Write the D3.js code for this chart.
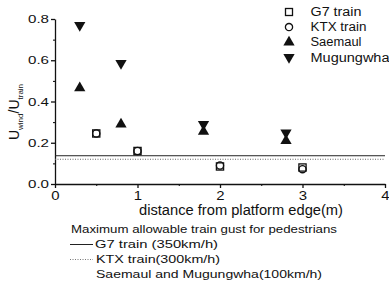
<!DOCTYPE html>
<html>
<head>
<meta charset="utf-8">
<script src="https://cdn.jsdelivr.net/npm/d3@7"></script>
<style>
  body { margin: 0; background: #fff; }
  text { font-family: "Liberation Sans", Arial, sans-serif; fill: #111; }
</style>
</head>
<body>
<div id="chart"></div>
<script>
const W = 389, H = 287;
const margin = { top: 19, right: 4, bottom: 103, left: 55 };
const width = W - margin.left - margin.right;
const height = H - margin.top - margin.bottom;

// data
const g7X = [0.5, 1.0, 2.0, 3.0];
const g7Y = [0.245, 0.16, 0.085, 0.08];
const ktxX = [0.5, 1.0, 2.0, 3.0];
const ktxY = [0.245, 0.16, 0.09, 0.072];
const saemaulX = [0.3, 0.8, 1.8, 2.8];
const saemaulY = [0.465, 0.29, 0.254, 0.21];
const mugungwhaX = [0.3, 0.8, 1.8, 2.8];
const mugungwhaY = [0.77, 0.585, 0.29, 0.248];
const limitG7 = 0.137;
const limitKTX = 0.12;
const xTicks = [0, 1, 2, 3, 4];
const yTicks = [0.0, 0.2, 0.4, 0.6, 0.8];

const svg = d3.select("#chart").append("svg")
  .attr("width", W).attr("height", H);
const g = svg.append("g")
  .attr("transform", `translate(${margin.left},${margin.top})`);

const x = d3.scaleLinear().domain([0, 4]).range([0, width]);
const y = d3.scaleLinear().domain([0, 0.8]).range([height, 0]);

// the original lettering is wide, so stretch text a bit
function stretched(sel, len) {
  return sel.attr("textLength", len).attr("lengthAdjust", "spacingAndGlyphs");
}

// minor ticks
g.append("g").attr("transform", `translate(0,${height})`)
  .call(d3.axisBottom(x).tickValues(d3.range(0.5, 4, 1)).tickSize(2).tickFormat(""))
  .call(a => a.select(".domain").remove());
g.append("g")
  .call(d3.axisLeft(y).tickValues(d3.range(0.1, 0.8, 0.2)).tickSize(2).tickFormat(""))
  .call(a => a.select(".domain").remove());

const xAxis = g.append("g").attr("transform", `translate(0,${height})`)
  .call(d3.axisBottom(x).tickValues(xTicks).tickSize(4).tickSizeOuter(0).tickFormat(d3.format("d")));
const yAxis = g.append("g")
  .call(d3.axisLeft(y).tickValues(yTicks).tickSize(4).tickSizeOuter(0).tickFormat(d3.format(".1f")));
[xAxis, yAxis].forEach(a => {
  a.selectAll("path,line").attr("stroke", "#111").attr("stroke-width", 1.3);
  a.selectAll("text").attr("fill", "#111");
});
xAxis.selectAll("text").style("font-size", "13px")
  .attr("y", 16).attr("dy", 0).attr("transform", "scale(1.15,1)");
yAxis.selectAll("text").style("font-size", "11px").attr("x", -6)
  .call(s => stretched(s, 21));

// limit lines
g.append("line").attr("x1", 0).attr("x2", width)
  .attr("y1", y(limitG7)).attr("y2", y(limitG7))
  .attr("stroke", "#222").attr("stroke-width", 1);
g.append("line").attr("x1", 0).attr("x2", width)
  .attr("y1", y(limitKTX)).attr("y2", y(limitKTX))
  .attr("stroke", "#666").attr("stroke-width", 1).attr("stroke-dasharray", "1,1.5");

const tri = d3.symbol().type(d3.symbolTriangle).size(55);

// markers
g.selectAll(".ktx").data(ktxX).enter().append("circle")
  .attr("cx", d => x(d)).attr("cy", (d, i) => y(ktxY[i])).attr("r", 3.6)
  .attr("fill", "none").attr("stroke", "#111").attr("stroke-width", 1.3);
g.selectAll(".g7").data(g7X).enter().append("rect")
  .attr("x", d => x(d) - 3.6).attr("y", (d, i) => y(g7Y[i]) - 3.6)
  .attr("width", 7.2).attr("height", 7.2)
  .attr("fill", "none").attr("stroke", "#111").attr("stroke-width", 1.3);
g.selectAll(".sae").data(saemaulX).enter().append("path")
  .attr("d", tri)
  .attr("transform", (d, i) => `translate(${x(d)},${y(saemaulY[i])})`)
  .attr("fill", "#111");
g.selectAll(".mug").data(mugungwhaX).enter().append("path")
  .attr("d", tri)
  .attr("transform", (d, i) => `translate(${x(d)},${y(mugungwhaY[i])}) rotate(180)`)
  .attr("fill", "#111");

// top-right legend
const leg = svg.append("g").attr("transform", "translate(289,12)");
const legNames = ["G7 train", "KTX train", "Saemaul", "Mugungwha"];
const legLen = [51, 56, 51, 79];
legNames.forEach((name, i) => {
  const row = leg.append("g").attr("transform", `translate(0,${i * 15.1})`);
  if (i === 0) row.append("rect").attr("x", -3.5).attr("y", -3.5).attr("width", 7).attr("height", 7)
    .attr("fill", "none").attr("stroke", "#111").attr("stroke-width", 1.3);
  if (i === 1) row.append("circle").attr("r", 3.6)
    .attr("fill", "none").attr("stroke", "#111").attr("stroke-width", 1.3);
  if (i === 2) row.append("path").attr("d", tri).attr("fill", "#111");
  if (i === 3) row.append("path").attr("d", tri).attr("transform", "rotate(180)").attr("fill", "#111");
  row.append("text").attr("x", 21.5).attr("y", 4.2).style("font-size", "12px").text(name)
    .call(s => stretched(s, legLen[i]));
});

// axis titles
svg.append("text").attr("x", 139).attr("y", 215).style("font-size", "14px")
  .text("distance from platform edge(m)")
  .call(s => stretched(s, 204));

const yl = svg.append("text")
  .attr("transform", "translate(19,112) rotate(-90)")
  .attr("text-anchor", "middle").style("font-size", "14px");
yl.append("tspan").text("U");
yl.append("tspan").attr("dy", 4).style("font-size", "8px").text("wind");
yl.append("tspan").attr("dy", -4).text("/U");
yl.append("tspan").attr("dy", 4).style("font-size", "8px").text("train");

// bottom legend
const fs = "11px";
svg.append("text").attr("x", 71).attr("y", 233).style("font-size", fs)
  .text("Maximum allowable train gust for pedestrians")
  .call(s => stretched(s, 266));
svg.append("line").attr("x1", 70).attr("x2", 93).attr("y1", 244.5).attr("y2", 244.5)
  .attr("stroke", "#222");
svg.append("text").attr("x", 95).attr("y", 248).style("font-size", fs)
  .text("G7 train (350km/h)")
  .call(s => stretched(s, 123));
svg.append("line").attr("x1", 70).attr("x2", 93).attr("y1", 259.5).attr("y2", 259.5)
  .attr("stroke", "#777").attr("stroke-dasharray", "1,1.5");
svg.append("text").attr("x", 96).attr("y", 263).style("font-size", fs)
  .text("KTX train(300km/h)")
  .call(s => stretched(s, 124));
svg.append("text").attr("x", 96).attr("y", 278).style("font-size", fs)
  .text("Saemaul and Mugungwha(100km/h)")
  .call(s => stretched(s, 226));
</script>
</body>
</html>
